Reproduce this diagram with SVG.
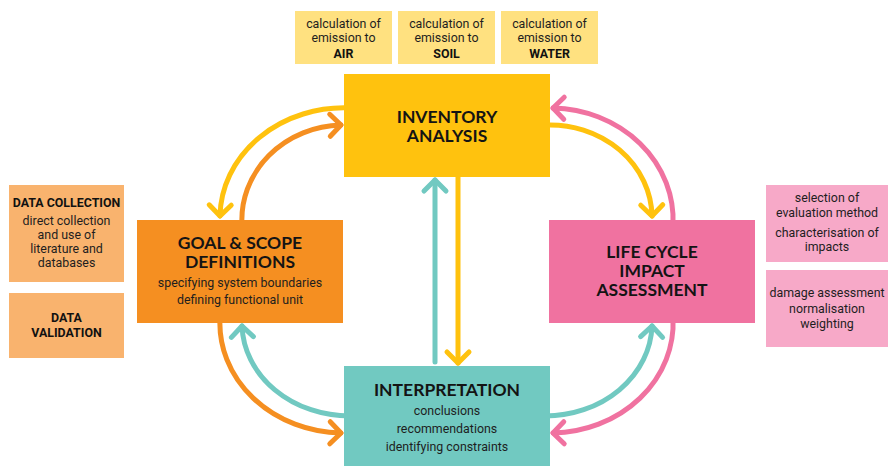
<svg xmlns="http://www.w3.org/2000/svg" width="888" height="466" viewBox="0 0 888 466">
  <style>
    .head { font-family: Lato, "Open Sans", "Liberation Sans", sans-serif; font-weight: 700; font-size: 17.5px; fill: #141414; text-anchor: middle; }
    .note { font-family: Roboto, "Liberation Sans", sans-serif; font-size: 12.4px; fill: #1e1e1e; text-anchor: middle; }
    .noteb { font-family: Roboto, "Liberation Sans", sans-serif; font-size: 12.4px; font-weight: 700; fill: #111; text-anchor: middle; }
    .conn { fill: none; stroke-width: 5; stroke-linecap: round; }
    .y { stroke: #FFC20E; }
    .o { stroke: #F58F21; }
    .p { stroke: #F072A0; }
    .t { stroke: #71C9C1; }
  </style>
  <defs>
    <marker id="ah-y" viewBox="-16 -16 20 32" refX="0" refY="0" markerWidth="20" markerHeight="32" markerUnits="userSpaceOnUse" orient="auto">
      <path d="M-11,-11 L0,0 L-11,11" fill="none" stroke="#FFC20E" stroke-width="5" stroke-linecap="round" stroke-linejoin="round"/>
    </marker>
    <marker id="ah-o" viewBox="-16 -16 20 32" refX="0" refY="0" markerWidth="20" markerHeight="32" markerUnits="userSpaceOnUse" orient="auto">
      <path d="M-11,-11 L0,0 L-11,11" fill="none" stroke="#F58F21" stroke-width="5" stroke-linecap="round" stroke-linejoin="round"/>
    </marker>
    <marker id="ah-p" viewBox="-16 -16 20 32" refX="0" refY="0" markerWidth="20" markerHeight="32" markerUnits="userSpaceOnUse" orient="auto">
      <path d="M-11,-11 L0,0 L-11,11" fill="none" stroke="#F072A0" stroke-width="5" stroke-linecap="round" stroke-linejoin="round"/>
    </marker>
    <marker id="ah-t" viewBox="-16 -16 20 32" refX="0" refY="0" markerWidth="20" markerHeight="32" markerUnits="userSpaceOnUse" orient="auto">
      <path d="M-11,-11 L0,0 L-11,11" fill="none" stroke="#71C9C1" stroke-width="5" stroke-linecap="round" stroke-linejoin="round"/>
    </marker>
  </defs>

  <rect width="888" height="466" fill="#ffffff"/>

  <!-- connectors -->
  <g id="connectors">
    <!-- inventory -> goal & scope -->
    <path class="conn y" d="M350,108 A124,110 0 0 0 220,216" marker-end="url(#ah-y)"/>
    <!-- goal & scope -> inventory -->
    <path class="conn o" d="M242,225 A102,95 0 0 1 341,125" marker-end="url(#ah-o)"/>
    <!-- LCIA -> inventory -->
    <path class="conn p" d="M673,225 A123,112 0 0 0 553,108" marker-end="url(#ah-p)"/>
    <!-- inventory -> LCIA -->
    <path class="conn y" d="M545,125 A102,93 0 0 1 652,216" marker-end="url(#ah-y)"/>
    <!-- goal & scope -> interpretation -->
    <path class="conn o" d="M220,318 A124,110 0 0 0 341,433" marker-end="url(#ah-o)"/>
    <!-- interpretation -> goal & scope -->
    <path class="conn t" d="M350,416 A108,93 0 0 1 242,326" marker-end="url(#ah-t)"/>
    <!-- interpretation -> LCIA -->
    <path class="conn t" d="M545,416 A107,93 0 0 0 652,326" marker-end="url(#ah-t)"/>
    <!-- LCIA -> interpretation -->
    <path class="conn p" d="M673,318 A123,110 0 0 1 553,433" marker-end="url(#ah-p)"/>
    <!-- interpretation -> inventory -->
    <path class="conn t" d="M435,362 L435,180" marker-end="url(#ah-t)"/>
    <!-- inventory -> interpretation -->
    <path class="conn y" d="M458,170 L458,363" marker-end="url(#ah-y)"/>
  </g>

  <!-- emission notes -->
  <g id="note-air">
    <rect x="295" y="11" width="97" height="53" fill="#FFE180"/>
    <text class="note" x="343.5" y="28">calculation of</text>
    <text class="note" x="343.5" y="42">emission to</text>
    <text class="noteb" x="343.5" y="58">AIR</text>
  </g>
  <g id="note-soil">
    <rect x="398" y="11" width="97" height="53" fill="#FFE180"/>
    <text class="note" x="446.5" y="28">calculation of</text>
    <text class="note" x="446.5" y="42">emission to</text>
    <text class="noteb" x="446.5" y="58">SOIL</text>
  </g>
  <g id="note-water">
    <rect x="501" y="11" width="97" height="53" fill="#FFE180"/>
    <text class="note" x="549.5" y="28">calculation of</text>
    <text class="note" x="549.5" y="42">emission to</text>
    <text class="noteb" x="549.5" y="58">WATER</text>
  </g>

  <!-- data notes -->
  <g id="note-data-collection">
    <rect x="9" y="185" width="115" height="97" fill="#F9B36E"/>
    <text class="noteb" x="66.5" y="207">DATA COLLECTION</text>
    <text class="note" x="66.5" y="225">direct collection</text>
    <text class="note" x="66.5" y="239">and use of</text>
    <text class="note" x="66.5" y="253">literature and</text>
    <text class="note" x="66.5" y="267">databases</text>
  </g>
  <g id="note-data-validation">
    <rect x="9" y="293" width="115" height="65" fill="#F9B36E"/>
    <text class="noteb" x="66.5" y="322">DATA</text>
    <text class="noteb" x="66.5" y="337">VALIDATION</text>
  </g>

  <!-- impact assessment notes -->
  <g id="note-evaluation">
    <rect x="766" y="185" width="122" height="77" fill="#F7A9C8"/>
    <text class="note" x="827" y="202">selection of</text>
    <text class="note" x="827" y="217">evaluation method</text>
    <text class="note" x="827" y="237">characterisation of</text>
    <text class="note" x="827" y="251">impacts</text>
  </g>
  <g id="note-damage">
    <rect x="766" y="270" width="122" height="77" fill="#F7A9C8"/>
    <text class="note" x="827" y="297">damage assessment</text>
    <text class="note" x="827" y="313">normalisation</text>
    <text class="note" x="827" y="328">weighting</text>
  </g>

  <!-- main stages -->
  <g id="inventory-analysis">
    <rect x="344" y="74" width="206" height="103" fill="#FFC20E"/>
    <text class="head" x="447" y="123">INVENTORY</text>
    <text class="head" x="447" y="142">ANALYSIS</text>
  </g>
  <g id="goal-scope">
    <rect x="137" y="220" width="206" height="103" fill="#F58F21"/>
    <text class="head" x="240" y="249">GOAL &amp; SCOPE</text>
    <text class="head" x="240" y="268">DEFINITIONS</text>
    <text class="note" x="240" y="287">specifying system boundaries</text>
    <text class="note" x="240" y="304">defining functional unit</text>
  </g>
  <g id="impact-assessment">
    <rect x="549" y="220" width="206" height="103" fill="#F072A0"/>
    <text class="head" x="652" y="258">LIFE CYCLE</text>
    <text class="head" x="652" y="277">IMPACT</text>
    <text class="head" x="652" y="296">ASSESSMENT</text>
  </g>
  <g id="interpretation">
    <rect x="344" y="366" width="206" height="100" fill="#71C9C1"/>
    <text class="head" x="447" y="396">INTERPRETATION</text>
    <text class="note" x="447" y="415">conclusions</text>
    <text class="note" x="447" y="433">recommendations</text>
    <text class="note" x="447" y="451">identifying constraints</text>
  </g>
</svg>
